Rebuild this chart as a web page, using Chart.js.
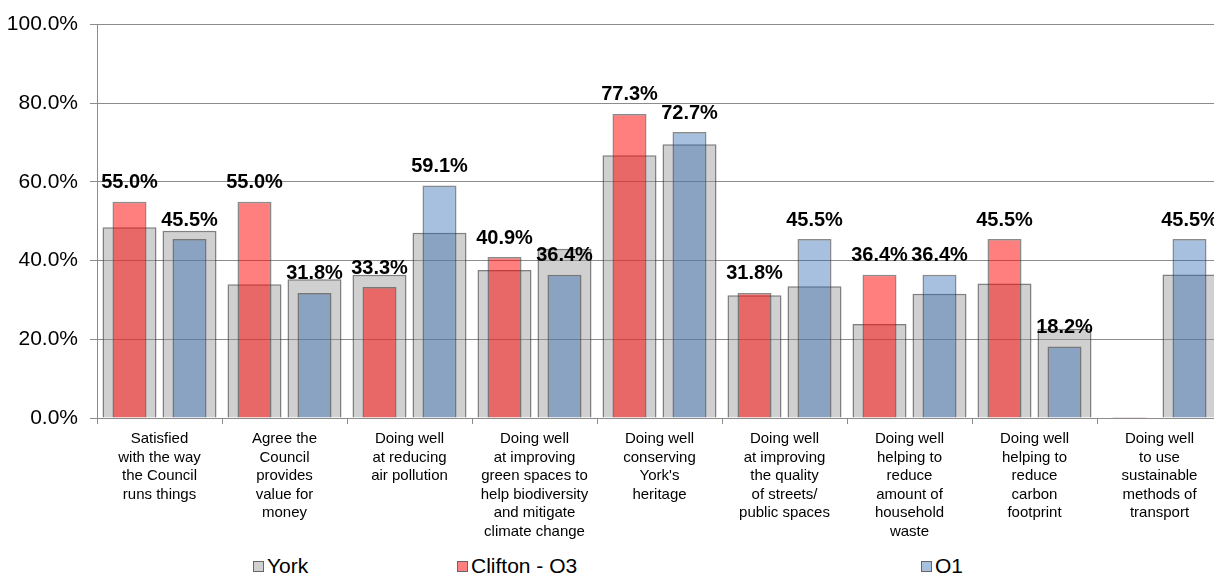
<!DOCTYPE html>
<html>
<head>
<meta charset="utf-8">
<script src="https://cdn.jsdelivr.net/npm/chart.js@4.4.0/dist/chart.umd.min.js"></script>
<style>
  html, body { margin: 0; padding: 0; background: #fff; overflow: hidden; width: 1214px; height: 573px; }
  #wrap { position: absolute; left: 0; top: 0; width: 1230px; height: 548px; }
  .leg { position: absolute; top: 554px; font: 21px "Liberation Sans", Arial, sans-serif; color: #000; line-height: 24px; white-space: nowrap; }
  .leg span { display: inline-block; width: 9px; height: 9px; border: 1px solid #666; margin-right: 3px; vertical-align: 1px; }
</style>
</head>
<body>
<div id="wrap"><canvas id="surveyChart"></canvas></div>
<div class="leg" style="left:253px"><span style="background:#d0d0d0"></span>York</div>
<div class="leg" style="left:457px"><span style="background:#ff8080"></span>Clifton - Q3</div>
<div class="leg" style="left:921px"><span style="background:#a8c0e0"></span>Q1</div>
<script>
const categories = [
    ["Satisfied", "with the way", "the Council", "runs things"],
    ["Agree the", "Council", "provides", "value for", "money"],
    ["Doing well", "at reducing", "air pollution"],
    ["Doing well", "at improving", "green spaces to", "help biodiversity", "and mitigate", "climate change"],
    ["Doing well", "conserving", "York's", "heritage"],
    ["Doing well", "at improving", "the quality", "of streets/", "public spaces"],
    ["Doing well", "helping to", "reduce", "amount of", "household", "waste"],
    ["Doing well", "helping to", "reduce", "carbon", "footprint"],
    ["Doing well", "to use", "sustainable", "methods of", "transport"]
];

// York comparison bars (behind Q3 and behind Q1)
const yorkQ3 = [48.5, 34.0, 36.4, 37.6, 66.8, 31.2, 23.9, 34.2, null];
const yorkQ1 = [47.6, 35.3, 47.1, 43.0, 69.6, 33.5, 31.6, 22.7, 36.5];

const cliftonQ3 = [55.0, 55.0, 33.3, 40.9, 77.3, 31.8, 36.4, 45.5, 0];
const cliftonQ1 = [45.5, 31.8, 59.1, 36.4, 72.7, 45.5, 36.4, 18.2, 45.5];

const yTicks = [0, 20, 40, 60, 80, 100];

const FONT = '"Liberation Sans", Arial, sans-serif';

const valueLabels = {
    id: 'valueLabels',
    afterDatasetsDraw(chart) {
        const ctx = chart.ctx;
        ctx.save();
        ctx.font = 'bold 20px ' + FONT;
        ctx.fillStyle = '#000';
        ctx.textAlign = 'center';
        ctx.textBaseline = 'middle';
        chart.data.datasets.forEach((ds, i) => {
            if (!ds.showValues) return;
            chart.getDatasetMeta(i).data.forEach((bar, j) => {
                const v = ds.data[j];
                if (!v) return;
                ctx.fillText(v.toFixed(1) + '%', bar.x, bar.y - 19);
            });
        });
        ctx.restore();
    }
};

const ctx = document.getElementById('surveyChart').getContext('2d');

// stack keys only pair the bars into the same slot; y is not stacked
new Chart(ctx, {
    type: 'bar',
    data: {
        labels: categories,
        datasets: [
            {
                label: 'York',
                data: yorkQ3,
                stack: 'a',
                order: 2,
                backgroundColor: 'rgba(150,150,150,0.45)',
                borderColor: 'rgba(60,60,60,0.65)',
                borderWidth: 1.5,
                categoryPercentage: 0.96,
                barPercentage: 0.9
            },
            {
                label: 'York ',
                data: yorkQ1,
                stack: 'b',
                order: 2,
                backgroundColor: 'rgba(150,150,150,0.45)',
                borderColor: 'rgba(60,60,60,0.65)',
                borderWidth: 1.5,
                categoryPercentage: 0.96,
                barPercentage: 0.9
            },
            {
                label: 'Clifton - Q3',
                data: cliftonQ3,
                stack: 'a',
                order: 1,
                showValues: true,
                minBarLength: 1,
                backgroundColor: 'rgba(255,0,0,0.5)',
                borderColor: 'rgba(60,60,60,0.6)',
                borderWidth: 1.5,
                categoryPercentage: 0.96,
                barPercentage: 0.567
            },
            {
                label: 'Q1',
                data: cliftonQ1,
                stack: 'b',
                order: 1,
                showValues: true,
                backgroundColor: 'rgba(38,98,178,0.4)',
                borderColor: 'rgba(60,60,60,0.6)',
                borderWidth: 1.5,
                categoryPercentage: 0.96,
                barPercentage: 0.567
            }
        ]
    },
    options: {
        responsive: true,
        maintainAspectRatio: false,
        animation: false,
        layout: { padding: { top: 20, right: 8, bottom: 0, left: 0 } },
        plugins: {
            legend: { display: false },
            tooltip: { enabled: false }
        },
        scales: {
            x: {
                offset: true,
                grid: { drawOnChartArea: false, drawTicks: true, tickLength: 6, color: '#8c8c8c', offset: true },
                border: { color: '#8c8c8c' },
                ticks: {
                    autoSkip: false,
                    maxRotation: 0,
                    minRotation: 0,
                    padding: 6,
                    color: '#000',
                    font: { family: FONT, size: 15, lineHeight: 1.23 }
                },
                afterFit: s => { s.height = 130; }
            },
            y: {
                stacked: false,
                min: 0,
                max: 100,
                afterBuildTicks: s => { s.ticks = yTicks.map(v => ({ value: v })); },
                grid: { color: '#8c8c8c', tickLength: 7 },
                border: { color: '#8c8c8c' },
                ticks: {
                    padding: 12,
                    color: '#000',
                    font: { family: FONT, size: 21 },
                    callback: v => v.toFixed(1) + '%'
                },
                afterFit: s => { s.width = 97; }
            }
        }
    },
    plugins: [valueLabels]
});
</script>
</body>
</html>
